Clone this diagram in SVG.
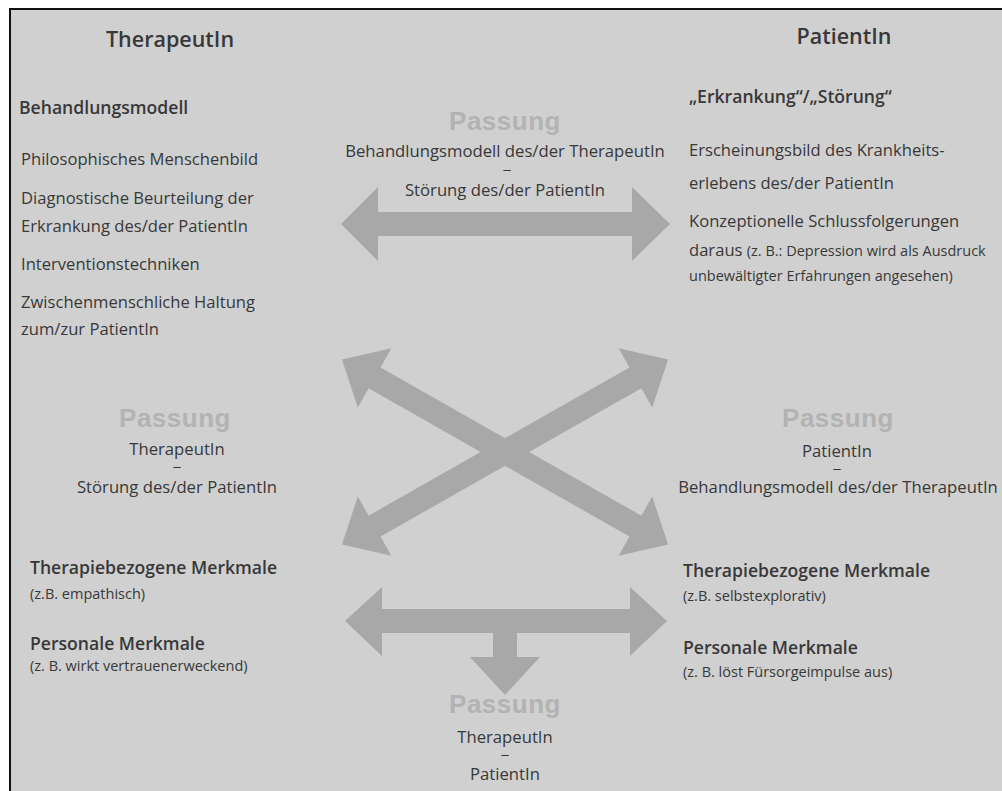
<svg xmlns="http://www.w3.org/2000/svg" width="1002" height="791" viewBox="0 0 1002 791">
<style>
text{font-family:"Open Sans","Noto Sans","Liberation Sans",sans-serif;fill:#383838}
.h{font-size:21.5px;font-weight:600}
.b{font-size:17.6px;font-weight:600}
.t{font-size:16.6px}
.s{font-size:14.5px}
.c{font-size:16.7px;text-anchor:middle}
.d{font-size:12px;text-anchor:middle}
.p{font-family:"Liberation Sans","Arial",sans-serif;font-size:26px;font-weight:700;fill:#b3b3b3;text-anchor:middle;letter-spacing:0.5px}
.arr{fill:#a8a8a8}
</style>
<rect x="0" y="0" width="1002" height="791" fill="#ffffff"/>
<rect x="10" y="9" width="1000" height="790" fill="#d0d0d0" stroke="#111" stroke-width="2"/>

<g id="connectors">
<polygon class="arr" points="341,224 378,187 378,212 632,212 632,187 670,224 632,261 632,236 378,236 378,261"/>
<g transform="translate(505,452) rotate(29.6)"><polygon class="arr" points="-187.5,0 -150,-34 -150,-12 150,-12 150,-34 187.5,0 150,34 150,12 -150,12 -150,34"/></g>
<g transform="translate(505,452) rotate(-29.6)"><polygon class="arr" points="-187.5,0 -150,-34 -150,-12 150,-12 150,-34 187.5,0 150,34 150,12 -150,12 -150,34"/></g>
<polygon class="arr" points="345,621 382,587 382,609 630,609 630,587 667,621 630,656 630,633 517,633 517,657 540,657 505,695 470,657 493,657 493,633 382,633 382,656"/>
</g>

<g id="therapeut">
<text class="h" x="170" y="47" text-anchor="middle">TherapeutIn</text>
<text class="b" x="19" y="114">Behandlungsmodell</text>
<text class="t" x="21" y="165">Philosophisches Menschenbild</text>
<text class="t" x="21" y="204">Diagnostische Beurteilung der</text>
<text class="t" x="21" y="232">Erkrankung des/der PatientIn</text>
<text class="t" x="21" y="270">Interventionstechniken</text>
<text class="t" x="21" y="308">Zwischenmenschliche Haltung</text>
<text class="t" x="21" y="335">zum/zur PatientIn</text>
</g>

<g id="patient">
<text class="h" x="844" y="44" text-anchor="middle">PatientIn</text>
<text class="b" x="689" y="103">„Erkrankung“/„Störung“</text>
<text class="t" x="689" y="156">Erscheinungsbild des Krankheits-</text>
<text class="t" x="689" y="189">erlebens des/der PatientIn</text>
<text class="t" x="689" y="227">Konzeptionelle Schlussfolgerungen</text>
<text class="t" x="689" y="256">daraus <tspan class="s">(z. B.: Depression wird als Ausdruck</tspan></text>
<text class="s" x="689" y="281">unbewältigter Erfahrungen angesehen)</text>
</g>

<g id="passung-top">
<text class="p" x="505" y="130">Passung</text>
<text class="c" x="505" y="157">Behandlungsmodell des/der TherapeutIn</text>
<text class="d" x="507" y="174" textLength="9" lengthAdjust="spacingAndGlyphs">–</text>
<text class="c" x="505" y="196">Störung des/der PatientIn</text>
</g>

<g id="passung-left">
<text class="p" x="175" y="427">Passung</text>
<text class="c" x="177" y="455">TherapeutIn</text>
<text class="d" x="177" y="471" textLength="9" lengthAdjust="spacingAndGlyphs">–</text>
<text class="c" x="177" y="493">Störung des/der PatientIn</text>
</g>

<g id="passung-right">
<text class="p" x="838" y="427">Passung</text>
<text class="c" x="837" y="457">PatientIn</text>
<text class="d" x="837" y="473" textLength="9" lengthAdjust="spacingAndGlyphs">–</text>
<text class="c" x="838" y="493">Behandlungsmodell des/der TherapeutIn</text>
</g>

<g id="merkmale-therapeut">
<text class="b" x="30" y="574">Therapiebezogene Merkmale</text>
<text class="s" x="30" y="599">(z.B. empathisch)</text>
<text class="b" x="30" y="650">Personale Merkmale</text>
<text class="s" x="30" y="671">(z. B. wirkt vertrauenerweckend)</text>
</g>

<g id="merkmale-patient">
<text class="b" x="683" y="577">Therapiebezogene Merkmale</text>
<text class="s" x="683" y="601">(z.B. selbstexplorativ)</text>
<text class="b" x="683" y="654">Personale Merkmale</text>
<text class="s" x="683" y="677">(z. B. löst Fürsorgeimpulse aus)</text>
</g>

<g id="passung-bottom">
<text class="p" x="505" y="713">Passung</text>
<text class="c" x="505" y="743">TherapeutIn</text>
<text class="d" x="505" y="759" textLength="9" lengthAdjust="spacingAndGlyphs">–</text>
<text class="c" x="505" y="780">PatientIn</text>
</g>
</svg>
